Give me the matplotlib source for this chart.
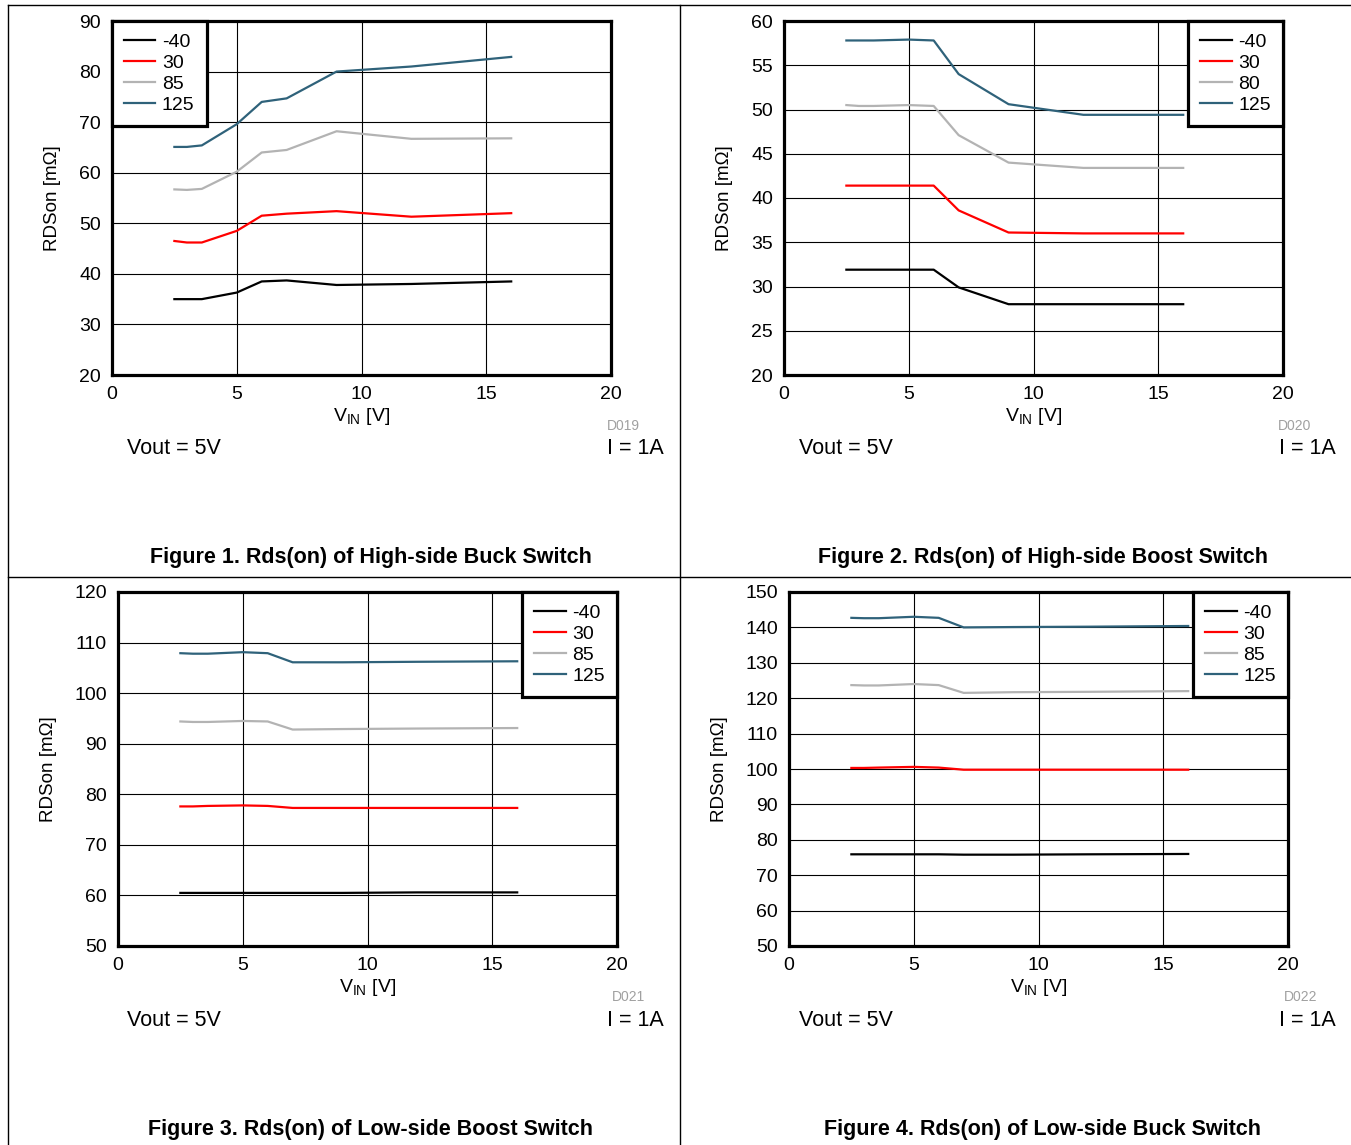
import numpy as np
import matplotlib
matplotlib.use('Agg')
import matplotlib.pyplot as plt
from matplotlib.lines import Line2D

plt.rcParams['font.family'] = ['Liberation Sans', 'DejaVu Sans']
plt.rcParams['mathtext.fontset'] = 'custom'
plt.rcParams['mathtext.rm'] = 'Liberation Sans'

W, H = 1351, 1145

# input voltage points
vin = [2.5, 3, 3.6, 5, 6, 7, 9, 12, 16]

# Figure 1 - high-side buck
f1_m40 = [35, 35, 35, 36.3, 38.5, 38.7, 37.8, 38.0, 38.5]
f1_p30 = [46.5, 46.2, 46.2, 48.5, 51.5, 51.9, 52.4, 51.3, 52.0]
f1_p85 = [56.7, 56.6, 56.8, 60.2, 64.0, 64.5, 68.2, 66.7, 66.8]
f1_p125 = [65.1, 65.1, 65.4, 69.6, 74.0, 74.7, 80.0, 81.0, 82.9]

# Figure 2 - high-side boost
f2_m40 = [31.9, 31.9, 31.9, 31.9, 31.9, 29.9, 28.0, 28.0, 28.0]
f2_p30 = [41.4, 41.4, 41.4, 41.4, 41.4, 38.6, 36.1, 36.0, 36.0]
f2_p80 = [50.5, 50.4, 50.4, 50.5, 50.4, 47.1, 44.0, 43.4, 43.4]
f2_p125 = [57.8, 57.8, 57.8, 57.9, 57.8, 54.0, 50.6, 49.4, 49.4]

# Figure 3 - low-side boost
f3_m40 = [60.5, 60.5, 60.5, 60.5, 60.5, 60.5, 60.5, 60.6, 60.6]
f3_p30 = [77.6, 77.6, 77.7, 77.8, 77.7, 77.3, 77.3, 77.3, 77.3]
f3_p85 = [94.4, 94.3, 94.3, 94.5, 94.4, 92.8, 92.9, 93.0, 93.1]
f3_p125 = [107.9, 107.8, 107.8, 108.1, 107.9, 106.1, 106.1, 106.2, 106.3]

# Figure 4 - low-side buck
f4_m40 = [75.9, 75.9, 75.9, 75.9, 75.9, 75.8, 75.8, 75.9, 76.0]
f4_p30 = [100.3, 100.3, 100.4, 100.6, 100.4, 99.8, 99.8, 99.8, 99.8]
f4_p85 = [123.7, 123.6, 123.6, 124.0, 123.7, 121.5, 121.7, 121.8, 122.0]
f4_p125 = [142.7, 142.6, 142.6, 143.0, 142.7, 140.0, 140.1, 140.2, 140.4]

colors = ['black', '#ff0000', '#b3b3b3', '#2f627a']

fig = plt.figure(figsize=(W / 100, H / 100), dpi=100)


def px(x, y):
    return x / W, 1 - y / H


def draw_panel(left, top, right, bottom, series, labels, yticks, legloc,
               code, code_x, title, title_x, ylab_x, txt_y, title_y, vout_x, i_x):
    x0, y1 = px(left, top)
    x1, y0 = px(right, bottom)
    ax = fig.add_axes([x0, y0, x1 - x0, y1 - y0])
    for s, c, lab in zip(series, colors, labels):
        ax.plot(vin, s, color=c, lw=1.6, label=lab)
    ax.set_xlim(0, 20)
    ax.set_ylim(yticks[0], yticks[-1])
    ax.set_xticks([0, 5, 10, 15, 20])
    ax.set_yticks(yticks)
    ax.grid(True, color='black', lw=0.8)
    ax.tick_params(length=0, labelsize=14, pad=8)
    for sp in ax.spines.values():
        sp.set_linewidth(2.3)
    ax.set_xlabel('V$_{\\mathrm{IN}}$ [V]', fontsize=14, labelpad=2)
    ax.set_ylabel('RDSon [m\u03a9]', fontsize=13.5)
    ax.yaxis.set_label_coords((ylab_x - left) / (right - left), 0.5)
    leg = ax.legend(loc=legloc, borderaxespad=0, fancybox=False, framealpha=1,
                    edgecolor='black', fontsize=14, handlelength=1.6,
                    labelspacing=0.18, borderpad=0.62, handletextpad=0.35)
    leg.get_frame().set_linewidth(2.3)
    fx, fy = px(code_x, bottom + 51)
    fig.text(fx, fy, code, fontsize=10, color='#a0a0a0', ha='right', va='center')
    fx, fy = px(vout_x, txt_y)
    fig.text(fx, fy, 'Vout = 5V', fontsize=15.5, ha='left', va='center')
    fx, fy = px(i_x, txt_y)
    fig.text(fx, fy, 'I = 1A', fontsize=15.5, ha='right', va='center')
    fx, fy = px(title_x, title_y)
    fig.text(fx, fy, title, fontsize=15.5, fontweight='bold', ha='center', va='center')
    return ax


draw_panel(112, 21, 611, 375, [f1_m40, f1_p30, f1_p85, f1_p125],
           ['-40', '30', '85', '125'], list(range(20, 91, 10)), 'upper left',
           'D019', 640, 'Figure 1. Rds(on) of High-side Buck Switch', 371,
           61, 448, 557, 127, 664)
draw_panel(784, 21, 1283, 375, [f2_m40, f2_p30, f2_p80, f2_p125],
           ['-40', '30', '80', '125'], list(range(20, 61, 5)), 'upper right',
           'D020', 1311, 'Figure 2. Rds(on) of High-side Boost Switch', 1043,
           733, 448, 557, 799, 1336)
draw_panel(118, 592, 617, 946, [f3_m40, f3_p30, f3_p85, f3_p125],
           ['-40', '30', '85', '125'], list(range(50, 121, 10)), 'upper right',
           'D021', 645, 'Figure 3. Rds(on) of Low-side Boost Switch', 371,
           57, 1020, 1129, 127, 664)
draw_panel(789, 592, 1288, 946, [f4_m40, f4_p30, f4_p85, f4_p125],
           ['-40', '30', '85', '125'], list(range(50, 151, 10)), 'upper right',
           'D022', 1317, 'Figure 4. Rds(on) of Low-side Buck Switch', 1043,
           728, 1020, 1129, 799, 1336)

# table borders around the four figures
border = dict(color='black', lw=1.0, transform=fig.transFigure)
fig.add_artist(Line2D([8 / W, 1], [1 - 5 / H, 1 - 5 / H], **border))
fig.add_artist(Line2D([8 / W, 1], [1 - 577 / H, 1 - 577 / H], **border))
fig.add_artist(Line2D([8 / W, 8 / W], [1 - 5 / H, 0], **border))
fig.add_artist(Line2D([680 / W, 680 / W], [1 - 5 / H, 0], **border))

fig.savefig('out.png', dpi=100)
